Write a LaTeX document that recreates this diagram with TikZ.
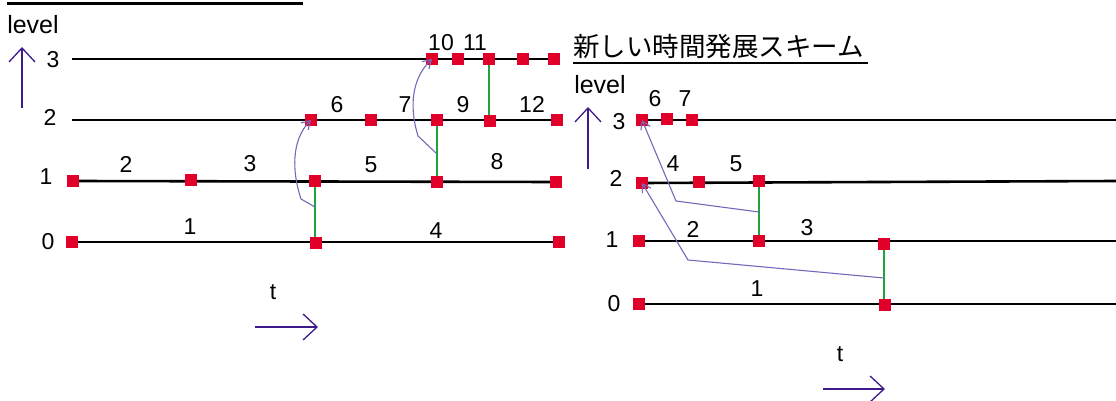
\documentclass[tikz,border=0pt]{standalone}
\usepackage{fontspec}
\setmainfont{Liberation Sans}
\newfontfamily\cjkfont{Noto Sans CJK JP}
\usetikzlibrary{arrows.meta}
\definecolor{sqred}{HTML}{E0002A}
\definecolor{lnkgreen}{HTML}{1FA33F}
\definecolor{axpurple}{HTML}{3E1A8A}
\definecolor{crvpurple}{HTML}{7A66B8}
\tikzset{
  sq/.style={fill=sqred, draw=none, minimum size=12pt, inner sep=0pt, outer sep=0pt},
  lvl/.style={line width=2.6pt, black},
  lnk/.style={line width=2.6pt, lnkgreen},
  lbl/.style={inner sep=0pt, font=\fontsize{23}{25}\selectfont},
  axarrow/.style={line width=1.3pt, axpurple, -{Straight Barb[length=14pt,width=26pt,line width=1.3pt]}},
  crv/.style={line width=1.1pt, crvpurple, -{Straight Barb[length=8pt,width=10pt,line width=1.1pt]}}
}
\begin{document}
\begin{tikzpicture}[x=1pt,y=-1pt]
\useasboundingbox (0,0) rectangle (1116,401);
% ---------------- left diagram ----------------
\coordinate (tlA) at (7,3.5);
\coordinate (tlB) at (303,3.5);
\draw[line width=3.2pt] (tlA) -- (tlB);
\node[lbl, font=\fontsize{25}{27}\selectfont] (levL) at (33,24.5) {level};
\coordinate (upLa) at (22,108);
\coordinate (upLb) at (22,47);
\draw[axarrow] (upLa) -- (upLb);
\node[lbl] (L3lab) at (53,60) {3};
\node[lbl] (L2lab) at (50,117) {2};
\node[lbl] (L1lab) at (46,177) {1};
\node[lbl] (L0lab) at (48,242) {0};
% squares
\coordinate (a3s) at (72,59);
\node[sq] (a3a) at (432,59) {};
\node[sq] (a3b) at (458,59) {};
\node[sq] (a3c) at (489,59) {};
\node[sq] (a3d) at (523,59) {};
\node[sq] (a3e) at (554,59) {};
\coordinate (a2s) at (72,120);
\node[sq] (a2a) at (311,120) {};
\node[sq] (a2b) at (371,120) {};
\node[sq] (a2c) at (437,120) {};
\node[sq] (a2d) at (490,121) {};
\node[sq] (a2e) at (557,120) {};
\node[sq] (a1a) at (73,181) {};
\node[sq] (a1b) at (191,180) {};
\node[sq] (a1c) at (315,181) {};
\node[sq] (a1d) at (437,182) {};
\node[sq] (a1e) at (556,182) {};
\node[sq] (a0a) at (72,242) {};
\node[sq] (a0b) at (316,243) {};
\node[sq] (a0c) at (559,242) {};
\draw[lvl] (a3s) -- (a3e.center);
\draw[lvl] (a2s) -- (a2e.center);
\draw[lvl] (a1a.center) -- (a1e.center);
\draw[lvl] (a0a.center) -- (a0c.center);
\draw[lnk] (a1c.center) -- (a1c.center |- a0b.center);
\draw[lnk] (a2c.center) -- (a2c.center |- a1d.center);
\draw[lnk] (a3c.center) -- (a3c.center |- a2d.center);
% squares on top
\foreach \n in {a3a,a3b,a3c,a3d,a3e,a2a,a2b,a2c,a2d,a2e,a1a,a1b,a1c,a1d,a1e,a0a,a0b,a0c}
  \fill[sqred] ([shift={(-6,-6)}]\n.center) rectangle ([shift={(6,6)}]\n.center);
% segment numbers
\node[lbl] (n1) at (190,227) {1};
\node[lbl] (n2) at (126,164) {2};
\node[lbl] (n3) at (250,164) {3};
\node[lbl] (n4) at (436,231) {4};
\node[lbl] (n5) at (371,165) {5};
\node[lbl] (n6) at (337,105) {6};
\node[lbl] (n7) at (405,105) {7};
\node[lbl] (n8) at (497,162) {8};
\node[lbl] (n9) at (463,105) {9};
\node[lbl] (n10) at (441,43) {10};
\node[lbl] (n11) at (475,43) {11};
\node[lbl] (n12) at (532,104) {12};
% curved arrows
\coordinate (cA0) at (315,207);
\coordinate (cA1) at (301,199);
\draw[crv] (cA0) -- (cA1) .. controls (292,172) and (291,140) .. (a2a.center);
\coordinate (cB0) at (436,153);
\coordinate (cB1) at (418,136);
\draw[crv] (cB0) -- (cB1) .. controls (410,110) and (410,80) .. (a3a.center);
% time arrow
\node[lbl] (tL) at (273,292) {t};
\coordinate (tLa) at (255,327);
\coordinate (tLb) at (318,327);
\draw[axarrow] (tLa) -- (tLb);
% ---------------- right diagram ----------------
\node[inner sep=0pt, font=\cjkfont\fontsize{26.5}{28}\selectfont, anchor=west] (title) at (573,46) {新しい時間発展スキーム};
\coordinate (ulA) at (573,63);
\coordinate (ulB) at (868,63);
\draw[line width=2.6pt] (ulA) -- (ulB);
\node[lbl, font=\fontsize{25}{27}\selectfont] (levR) at (600,85) {level};
\coordinate (upRa) at (588,169);
\coordinate (upRb) at (588,107);
\draw[axarrow] (upRa) -- (upRb);
\node[lbl] (R3lab) at (619,122) {3};
\node[lbl] (R2lab) at (616,178) {2};
\node[lbl] (R1lab) at (612,240) {1};
\node[lbl] (R0lab) at (614,304) {0};
\node[sq] (b3a) at (642,120) {};
\node[sq] (b3b) at (667,119) {};
\node[sq] (b3c) at (692,120) {};
\coordinate (b3e) at (1116,120);
\node[sq] (b2a) at (642,183) {};
\node[sq] (b2b) at (699,182) {};
\node[sq] (b2c) at (759,181) {};
\coordinate (b2e) at (1116,181);
\node[sq] (b1a) at (639,241) {};
\node[sq] (b1b) at (759,241) {};
\node[sq] (b1c) at (884,244) {};
\coordinate (b1e) at (1116,241);
\node[sq] (b0a) at (639,304) {};
\node[sq] (b0b) at (885,305) {};
\coordinate (b0e) at (1116,304);
\draw[lvl] (b3a.center) -- (b3e);
\draw[lvl] (b2a.center) -- (b2e);
\draw[lvl] (b1a.center) -- (b1e);
\draw[lvl] (b0a.center) -- (b0e);
\draw[lnk] (b2c.center) -- (b2c.center |- b1b.center);
\draw[lnk] (b1c.center) -- (b1c.center |- b0b.center);
\foreach \n in {b3a,b3b,b3c,b2a,b2b,b2c,b1a,b1b,b1c,b0a,b0b}
  \fill[sqred] ([shift={(-6,-6)}]\n.center) rectangle ([shift={(6,6)}]\n.center);
\node[lbl] (m6) at (655,99) {6};
\node[lbl] (m7) at (685,99) {7};
\node[lbl] (m4) at (673,164) {4};
\node[lbl] (m5) at (736,164) {5};
\node[lbl] (m2) at (693,229) {2};
\node[lbl] (m3) at (807,228) {3};
\node[lbl] (m1) at (757,289) {1};
% straight polyline arrows
\coordinate (pA0) at (759,212);
\coordinate (pA1) at (676,201);
\draw[crv] (pA0) -- (pA1) -- (b3a.center);
\coordinate (pB0) at (884,278);
\coordinate (pB1) at (688,260);
\draw[crv] (pB0) -- (pB1) -- (b2a.center);
% time arrow
\node[lbl] (tR) at (840,354) {t};
\coordinate (tRa) at (823,389);
\coordinate (tRb) at (885,389);
\draw[axarrow] (tRa) -- (tRb);
\end{tikzpicture}
\end{document}
